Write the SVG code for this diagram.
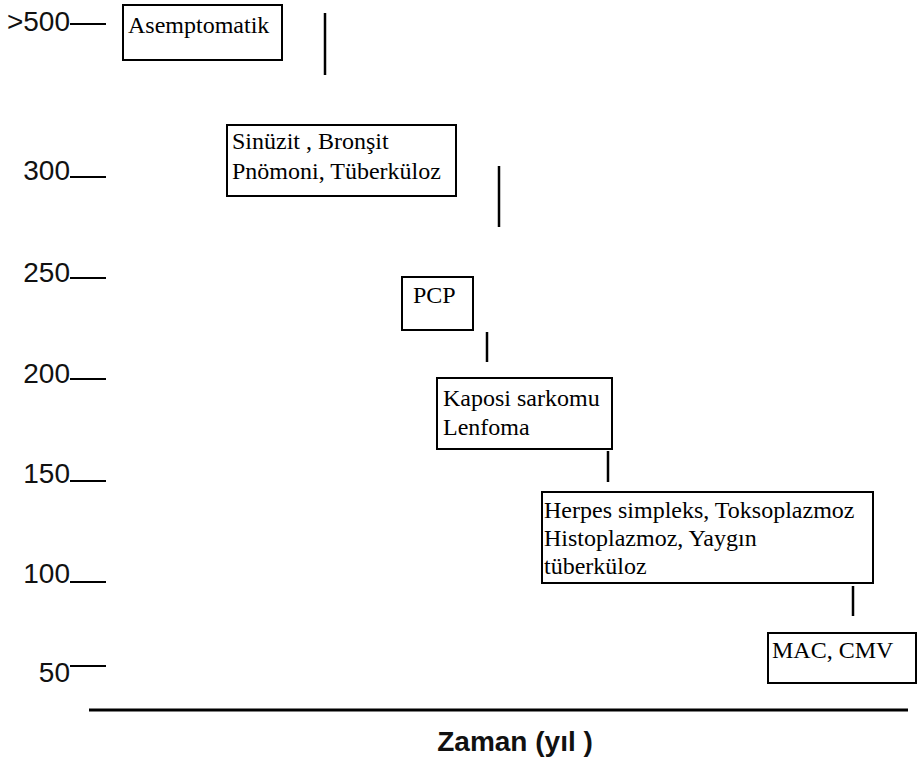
<svg xmlns="http://www.w3.org/2000/svg" width="918" height="760" viewBox="0 0 918 760">
<style>
.box{fill:#fff;stroke:#000;stroke-width:2}
.t{font-family:"Liberation Serif","Times New Roman",serif;font-size:24px;fill:#000}
.ax{font-family:"Liberation Sans",Arial,sans-serif;font-size:28px;fill:#111;text-anchor:end}
.tick{stroke:#000;stroke-width:2}
.conn{stroke:#000;stroke-width:2.5}
</style>
<rect width="918" height="760" fill="#fff"/>
<g id="axis">
<text class="ax" x="70" y="31">&gt;500</text><line class="tick" x1="70" y1="24" x2="106" y2="24"/>
<text class="ax" x="70" y="180">300</text><line class="tick" x1="70" y1="177" x2="106" y2="177"/>
<text class="ax" x="70" y="282">250</text><line class="tick" x1="70" y1="278" x2="106" y2="278"/>
<text class="ax" x="70" y="383">200</text><line class="tick" x1="70" y1="379" x2="106" y2="379"/>
<text class="ax" x="70" y="483">150</text><line class="tick" x1="70" y1="481" x2="106" y2="481"/>
<text class="ax" x="70" y="583">100</text><line class="tick" x1="70" y1="582" x2="106" y2="582"/>
<text class="ax" x="70" y="682">50</text><line class="tick" x1="70" y1="666" x2="106" y2="666"/>
<line x1="89" y1="710" x2="908" y2="710" stroke="#000" stroke-width="3"/>
<text x="515" y="751" font-family="Liberation Sans,Arial,sans-serif" font-size="28" font-weight="bold" text-anchor="middle" fill="#111">Zaman (yıl )</text>
</g>
<g id="n1"><rect class="box" x="123" y="5" width="159" height="55"/><text class="t" x="128" y="33">Asemptomatik</text></g>
<g id="n2"><rect class="box" x="227" y="125" width="229" height="71"/><text class="t" x="232" y="149">Sinüzit , Bronşit</text><text class="t" x="232" y="179">Pnömoni, Tüberküloz</text></g>
<g id="n3"><rect class="box" x="402" y="277" width="71" height="53"/><text class="t" x="413" y="303">PCP</text></g>
<g id="n4"><rect class="box" x="437" y="378" width="175" height="71"/><text class="t" x="443" y="406">Kaposi sarkomu</text><text class="t" x="443" y="435">Lenfoma</text></g>
<g id="n5"><rect class="box" x="542" y="492" width="331" height="91"/><text class="t" x="544" y="518">Herpes simpleks, Toksoplazmoz</text><text class="t" x="544" y="546">Histoplazmoz, Yaygın</text><text class="t" x="544" y="574">tüberküloz</text></g>
<g id="n6"><rect class="box" x="768" y="633" width="148" height="50"/><text class="t" x="772" y="658">MAC, CMV</text></g>
<g id="connectors">
<line class="conn" x1="325" y1="13" x2="325" y2="75"/>
<line class="conn" x1="499" y1="166" x2="499" y2="227"/>
<line class="conn" x1="487" y1="332" x2="487" y2="362"/>
<line class="conn" x1="608" y1="451" x2="608" y2="482"/>
<line class="conn" x1="853" y1="586" x2="853" y2="616"/>
</g>
</svg>
